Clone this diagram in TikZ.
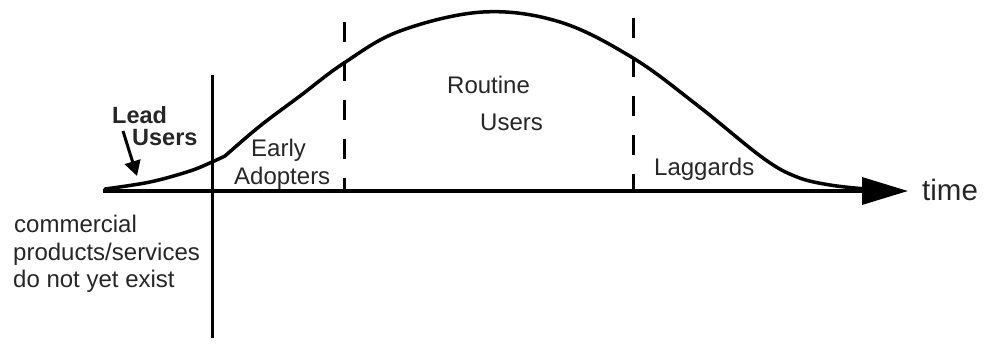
\documentclass[tikz,border=0pt]{standalone}
\usepackage{fontspec}
\setmainfont{Liberation Sans}
\usetikzlibrary{arrows.meta}
\begin{document}
\begin{tikzpicture}[x=1pt,y=-1pt,
  lbl/.style={inner sep=0pt,anchor=base west,font=\fontsize{24}{27}\selectfont,text=black!85},
  axisline/.style={line width=3.5pt,-{Triangle[length=46pt,width=27pt]}},
  curveline/.style={line width=3.5pt,line cap=round,line join=round},
  divider/.style={line width=3pt},
  dashdiv/.style={line width=3pt,dash pattern=on 20pt off 19pt}]
\useasboundingbox (0,0) rectangle (986,345);
% axis
\coordinate (o) at (103,191);
\coordinate (tip) at (908,191);
\draw[axisline] (o) -- (tip);
\node[lbl,anchor=base west,font=\fontsize{29.5}{30}\selectfont] (time) at (922,200) {time};
% dividers
\coordinate (s1) at (212,75);
\coordinate (s2) at (212,338);
\draw[divider] (s1) -- (s2);
\coordinate (d1a) at (344,22);
\coordinate (d1b) at (344,192);
\draw[dashdiv] (d1a) -- (d1b);
\coordinate (d2a) at (633,18);
\coordinate (d2b) at (633,192);
\draw[dashdiv] (d2a) -- (d2b);
% curve
\draw[curveline] plot[smooth,tension=0.6] coordinates {(105,189) (150,182) (190,171) (212,162) (225,156)}
  -- plot[smooth,tension=0.6] coordinates {(225,156) (260,126) (300,96) (344,63) (400,31) (483,12) (560,22) (633,58) (697,105) (763,158) (797,177) (830,185) (866,189)};
% labels
\node[lbl,font=\fontsize{23.5}{26}\selectfont\bfseries] (lead) at (112,123) {Lead};
\node[lbl,font=\fontsize{23.5}{26}\selectfont\bfseries] (users1) at (132,145) {Users};
\coordinate (la) at (123,131);
\coordinate (lb) at (137,176);
\draw[line width=3pt,-{Triangle[length=15pt,width=16pt]}] (la) -- (lb);
\node[lbl] (early) at (251,157) {Early};
\node[lbl] (adopt) at (234,184) {Adopters};
\node[lbl] (routine) at (447,93) {Routine};
\node[lbl] (users2) at (480,130) {Users};
\node[lbl] (lag) at (654,175) {Laggards};
\node[lbl] (comm1) at (14,232) {commercial};
\node[lbl] (comm2) at (13,260) {products/services};
\node[lbl] (comm3) at (13,287) {do not yet exist};
\end{tikzpicture}
\end{document}
